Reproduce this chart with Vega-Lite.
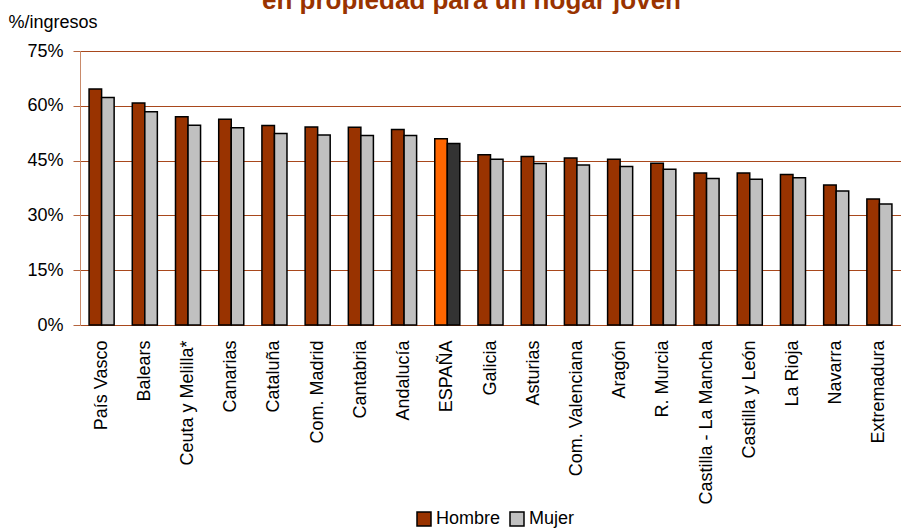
{
  "$schema": "https://vega.github.io/schema/vega-lite/v6.json",
  "width": 821,
  "height": 274,
  "autosize": {"type": "none"},
  "padding": {"left": 80, "top": 51, "right": 0, "bottom": 205},
  "background": "white",
  "title": {
    "text": "en propiedad para un hogar joven",
    "fontSize": 26,
    "fontWeight": "bold",
    "color": "#993300",
    "font": "Liberation Sans",
    "anchor": "middle",
    "frame": "group",
    "offset": -22,
    "dx": -19,
    "baseline": "alphabetic"
  },
  "config": {
    "view": {"stroke": null},
    "font": "Liberation Sans"
  },
  "data": {
    "values": [
      {"region": "País Vasco", "sexo": "Hombre", "valor": 64.6},
      {"region": "País Vasco", "sexo": "Mujer", "valor": 62.3},
      {"region": "Balears", "sexo": "Hombre", "valor": 60.8},
      {"region": "Balears", "sexo": "Mujer", "valor": 58.4},
      {"region": "Ceuta y Melilla*", "sexo": "Hombre", "valor": 57.0},
      {"region": "Ceuta y Melilla*", "sexo": "Mujer", "valor": 54.7},
      {"region": "Canarias", "sexo": "Hombre", "valor": 56.3},
      {"region": "Canarias", "sexo": "Mujer", "valor": 54.0},
      {"region": "Cataluña", "sexo": "Hombre", "valor": 54.6},
      {"region": "Cataluña", "sexo": "Mujer", "valor": 52.4},
      {"region": "Com. Madrid", "sexo": "Hombre", "valor": 54.2},
      {"region": "Com. Madrid", "sexo": "Mujer", "valor": 52.0},
      {"region": "Cantabria", "sexo": "Hombre", "valor": 54.1},
      {"region": "Cantabria", "sexo": "Mujer", "valor": 51.9},
      {"region": "Andalucía", "sexo": "Hombre", "valor": 53.5},
      {"region": "Andalucía", "sexo": "Mujer", "valor": 51.9},
      {"region": "ESPAÑA", "sexo": "Hombre", "valor": 51.0},
      {"region": "ESPAÑA", "sexo": "Mujer", "valor": 49.7},
      {"region": "Galicia", "sexo": "Hombre", "valor": 46.6},
      {"region": "Galicia", "sexo": "Mujer", "valor": 45.4},
      {"region": "Asturias", "sexo": "Hombre", "valor": 46.1},
      {"region": "Asturias", "sexo": "Mujer", "valor": 44.2},
      {"region": "Com. Valenciana", "sexo": "Hombre", "valor": 45.7},
      {"region": "Com. Valenciana", "sexo": "Mujer", "valor": 43.8},
      {"region": "Aragón", "sexo": "Hombre", "valor": 45.4},
      {"region": "Aragón", "sexo": "Mujer", "valor": 43.4},
      {"region": "R. Murcia", "sexo": "Hombre", "valor": 44.3},
      {"region": "R. Murcia", "sexo": "Mujer", "valor": 42.6},
      {"region": "Castilla - La Mancha", "sexo": "Hombre", "valor": 41.6},
      {"region": "Castilla - La Mancha", "sexo": "Mujer", "valor": 40.1},
      {"region": "Castilla y León", "sexo": "Hombre", "valor": 41.6},
      {"region": "Castilla y León", "sexo": "Mujer", "valor": 39.9},
      {"region": "La Rioja", "sexo": "Hombre", "valor": 41.2},
      {"region": "La Rioja", "sexo": "Mujer", "valor": 40.3},
      {"region": "Navarra", "sexo": "Hombre", "valor": 38.3},
      {"region": "Navarra", "sexo": "Mujer", "valor": 36.7},
      {"region": "Extremadura", "sexo": "Hombre", "valor": 34.5},
      {"region": "Extremadura", "sexo": "Mujer", "valor": 33.1}
    ]
  },
  "mark": {"type": "bar", "stroke": "black", "strokeWidth": 1.5},
  "encoding": {
    "x": {
      "field": "region",
      "type": "nominal",
      "sort": null,
      "scale": {"paddingInner": 0.42, "paddingOuter": 0.21},
      "axis": {
        "title": null,
        "labelAngle": -90,
        "labelAlign": "right",
        "labelBaseline": "middle",
        "labelFontSize": 18,
        "labelColor": "black",
        "labelPadding": 15,
        "ticks": false,
        "domain": false
      }
    },
    "xOffset": {
      "field": "sexo",
      "type": "nominal",
      "sort": ["Hombre", "Mujer"],
      "scale": {"paddingInner": 0, "paddingOuter": 0}
    },
    "y": {
      "field": "valor",
      "type": "quantitative",
      "scale": {"domain": [0, 75], "nice": false},
      "axis": {
        "values": [0, 15, 30, 45, 60, 75],
        "labelExpr": "datum.value + '%'",
        "labelFontSize": 18,
        "labelColor": "black",
        "labelPadding": 10,
        "tickSize": 7,
        "tickColor": "#B5653F",
        "domainColor": "#C98A6A",
        "grid": true,
        "gridColor": "#A8481C",
        "gridWidth": 1,
        "title": "%/ingresos",
        "titleAngle": 0,
        "titleAlign": "left",
        "titleBaseline": "alphabetic",
        "titleX": -72,
        "titleY": -24,
        "titleFontSize": 18,
        "titleFontWeight": "normal",
        "titleColor": "black"
      }
    },
    "color": {
      "condition": [
        {"test": "datum.region === 'ESPAÑA' && datum.sexo === 'Hombre'", "value": "#FF6600"},
        {"test": "datum.region === 'ESPAÑA' && datum.sexo === 'Mujer'", "value": "#333333"}
      ],
      "field": "sexo",
      "type": "nominal",
      "sort": ["Hombre", "Mujer"],
      "scale": {"domain": ["Hombre", "Mujer"], "range": ["#993300", "#C0C0C0"]},
      "legend": {
        "title": null,
        "orient": "none",
        "legendX": 335,
        "legendY": 459,
        "direction": "horizontal",
        "symbolType": "square",
        "symbolSize": 196,
        "symbolStrokeColor": "black",
        "symbolStrokeWidth": 1.5,
        "symbolOpacity": 1,
        "labelFontSize": 18,
        "labelColor": "black",
        "labelOffset": 3,
        "columnPadding": 6
      }
    }
  }
}
